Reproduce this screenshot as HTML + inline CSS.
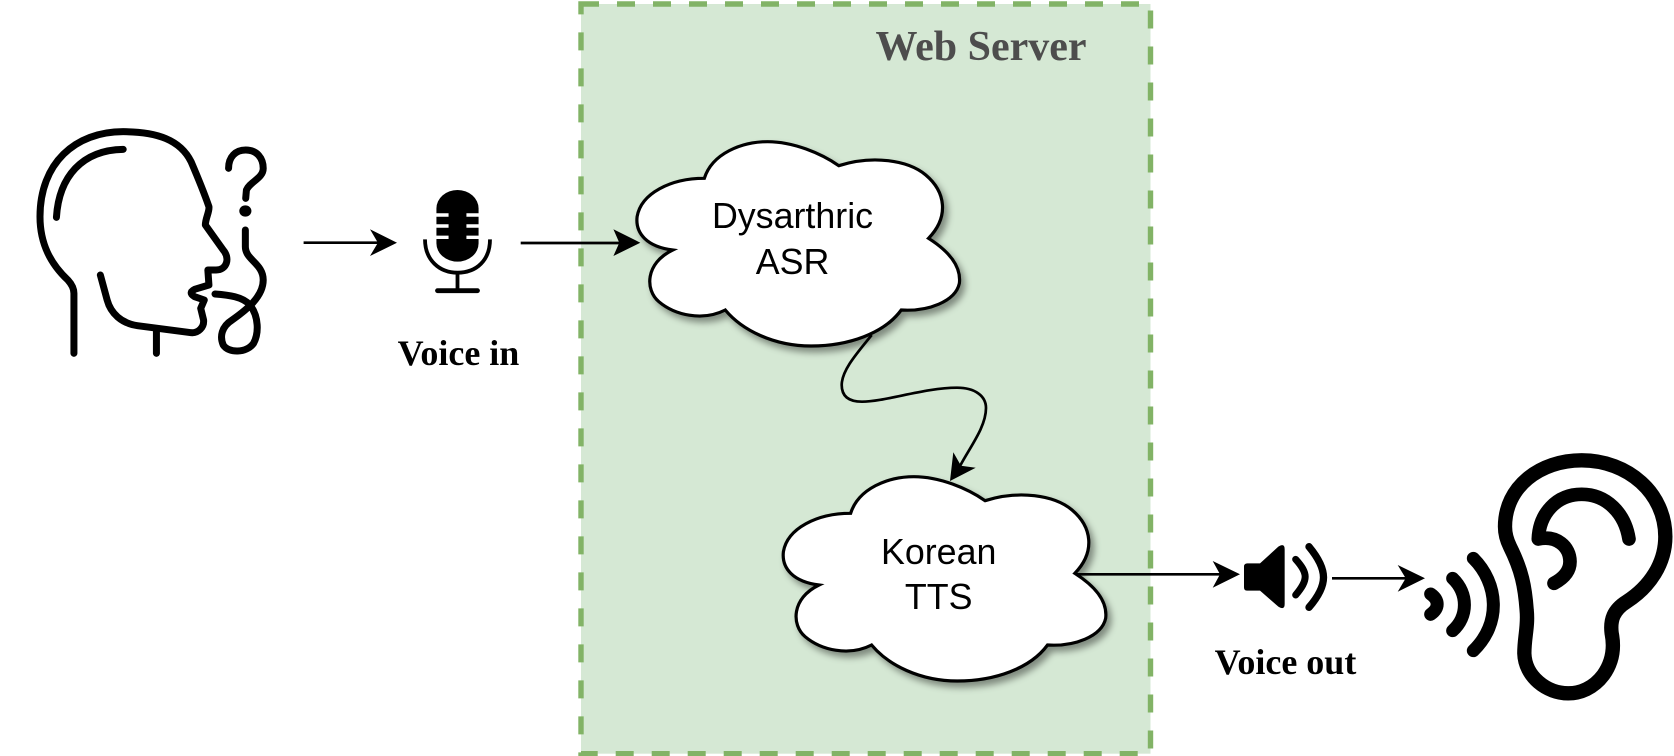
<!DOCTYPE html>
<html>
<head>
<meta charset="utf-8">
<style>
html,body{margin:0;padding:0;background:#fff;width:1674px;height:756px;overflow:hidden}
svg{display:block}
.ns *{vector-effect:non-scaling-stroke}
</style>
</head>
<body>
<svg width="1674" height="756" viewBox="0 0 1674 756" xmlns="http://www.w3.org/2000/svg">
<defs>
<filter id="sh" x="-10%" y="-10%" width="125%" height="125%">
<feDropShadow dx="4" dy="5" stdDeviation="3.5" flood-color="#000" flood-opacity="0.4"/>
</filter>
</defs>
<rect width="1674" height="756" fill="#fff"/>

<!-- Web server box -->
<rect x="581" y="4" width="569.5" height="749.7" fill="#d5e8d4" stroke="#82b366" stroke-width="5.4" stroke-dasharray="18 18"/>
<text x="981" y="60" font-family="'Liberation Serif',serif" font-weight="bold" font-size="42" fill="#4d4d4d" text-anchor="middle">Web Server</text>

<!-- Head -->
<g class="ns" transform="translate(0,100) scale(.35714,.33333)" fill="none" stroke="#000" stroke-width="7" stroke-linecap="round" stroke-linejoin="round">
<path d="M207,760 V580 Q207,560 190,540 C140,490 112,430 112,350 C112,190 210,95 345,95 C440,95 505,120 535,185 C555,235 572,280 585,320 C587,335 575,355 575,375 L625,450 C645,475 635,510 605,510 L582,510 L585,555 L545,568 C532,575 532,582 545,590 L572,600 L562,625 L570,660 C572,682 555,700 535,698 L385,677 C340,670 310,640 300,600 L281,525"/>
<path d="M158,352 C165,230 230,150 345,148"/>
<path d="M438,690 V760"/>
<path d="M640,205 C640,170 660,150 688,150 C720,150 737,175 737,205 C737,235 700,245 690,270 L688,295"/>
<path d="M687,390 V440 C687,480 737,490 737,540 C737,590 690,630 650,660 C620,680 615,710 625,735 C640,760 690,760 710,730 C725,700 725,650 700,615 C680,590 640,585 602,582"/>
<ellipse cx="687" cy="333" rx="17" ry="17" fill="#000" stroke="none"/>
</g>

<!-- Mic -->
<g class="ns" transform="translate(0,100) scale(.35714,.33333)">
<rect x="1222" y="270" width="118" height="215" rx="59" ry="55" fill="#000"/>
<g stroke="#fff" stroke-width="3.4" fill="none">
<path d="M1216,345 H1256 M1216,378 H1256 M1216,412 H1256 M1306,345 H1346 M1306,378 H1346 M1306,412 H1346"/>
</g>
<g fill="none" stroke="#000" stroke-width="3.8">
<path d="M1190,418 C1190,480 1230,518 1281,518 C1335,518 1372,480 1372,418"/>
<path d="M1281,518 V572"/>
<path d="M1225,572 H1337" stroke-width="4.8" stroke-linecap="round"/>
</g>
</g>

<text x="458.5" y="365" font-family="'Liberation Serif',serif" font-weight="bold" font-size="36" fill="#000" text-anchor="middle">Voice in</text>

<!-- Clouds -->
<g filter="url(#sh)">
<path transform="translate(560,0) scale(.39541,.33333)" vector-effect="non-scaling-stroke" d="M365,535 C385,460 460,425 525,425 C590,425 660,460 705,497 C790,465 880,480 925,525 C975,575 985,650 932,715 C985,755 1015,800 1010,850 C1000,905 930,935 863,930 C820,1000 730,1038 635,1038 C540,1038 460,990 418,930 C360,965 290,945 250,905 C215,870 215,790 285,750 C220,740 190,700 195,650 C205,580 280,535 365,535 Z" fill="#fff" stroke="#000" stroke-width="3.2"/>
</g>
<g filter="url(#sh)">
<path transform="translate(706.3,335) scale(.39541,.33333)" vector-effect="non-scaling-stroke" d="M365,535 C385,460 460,425 525,425 C590,425 660,460 705,497 C790,465 880,480 925,525 C975,575 985,650 932,715 C985,755 1015,800 1010,850 C1000,905 930,935 863,930 C820,1000 730,1038 635,1038 C540,1038 460,990 418,930 C360,965 290,945 250,905 C215,870 215,790 285,750 C220,740 190,700 195,650 C205,580 280,535 365,535 Z" fill="#fff" stroke="#000" stroke-width="3.2"/>
</g>

<g font-family="'Liberation Sans',sans-serif" font-size="35.8" fill="#000" text-anchor="middle">
<text x="792.5" y="228">Dysarthric</text>
<text x="792.5" y="274">ASR</text>
<text x="938.7" y="564">Korean</text>
<text x="938.7" y="609">TTS</text>
</g>

<!-- Connectors -->
<g fill="none" stroke="#000" stroke-width="2.7">
<path d="M303.6,242.7 H380"/>
<path d="M520.7,243 H622"/>
<path d="M871.7,335 C858,352 841.7,370 841.7,385 C841.7,398 851,401.7 862,401.7 C885,401.7 925,387.7 957,387.7 C975,387.7 986,396 986,408 C986,427 970,447 960,466"/>
<path d="M1076,574.3 H1222"/>
<path d="M1332,578.3 H1408"/>
</g>
<g fill="#000">
<polygon points="370,229.3 397,242.7 370,256 377.9,242.7"/>
<polygon points="613.4,229.3 640.3,242.7 613.4,256 619.3,242.7"/>
<polygon points="953.3,452.3 961,465.7 975.7,467.7 950,481"/>
<polygon points="1212.7,561 1240,574.3 1212.7,587.7 1220,574.3"/>
<polygon points="1397.7,565 1425,578.3 1397.7,591.7 1405.7,578.3"/>
</g>

<!-- Speaker and ear -->
<g transform="translate(1180,430) scale(.33333)">
<path d="M192,410 Q192,400 202,400 L240,400 L295,350 Q314,338 314,358 L314,522 Q314,542 295,530 L240,482 L202,482 Q192,482 192,472 Z" fill="#000"/>
<g fill="none" stroke="#000" stroke-linecap="round" stroke-linejoin="round">
<path d="M347,388 C385,430 385,450 347,495" stroke-width="21"/>
<path d="M387,350 C445,420 445,465 387,532" stroke-width="22"/>
<path d="M975,290 C975,170 1080,91 1205,91 C1345,91 1456,190 1456,320 C1456,400 1410,470 1340,515 C1300,540 1290,570 1295,610 C1305,660 1295,700 1270,735 C1240,775 1200,790 1165,790 C1100,790 1035,740 1033,670 C1033,620 1045,590 1040,540 C1035,470 1025,420 990,350 C980,330 975,310 975,290 Z" stroke-width="43"/>
<path d="M1347,327 C1335,250 1280,193 1205,193 C1130,193 1078,250 1075,327 C1130,315 1170,350 1170,395 C1170,425 1150,445 1122,460" stroke-width="41"/>
<path d="M880,385 C955,460 965,580 880,662" stroke-width="39"/>
<path d="M818,445 C865,490 865,560 818,602" stroke-width="39"/>
<path d="M752,492 C778,510 778,535 752,553" stroke-width="39"/>
</g>
</g>

<text x="1285.5" y="674" font-family="'Liberation Serif',serif" font-weight="bold" font-size="36" fill="#000" text-anchor="middle">Voice out</text>
</svg>
</body>
</html>
